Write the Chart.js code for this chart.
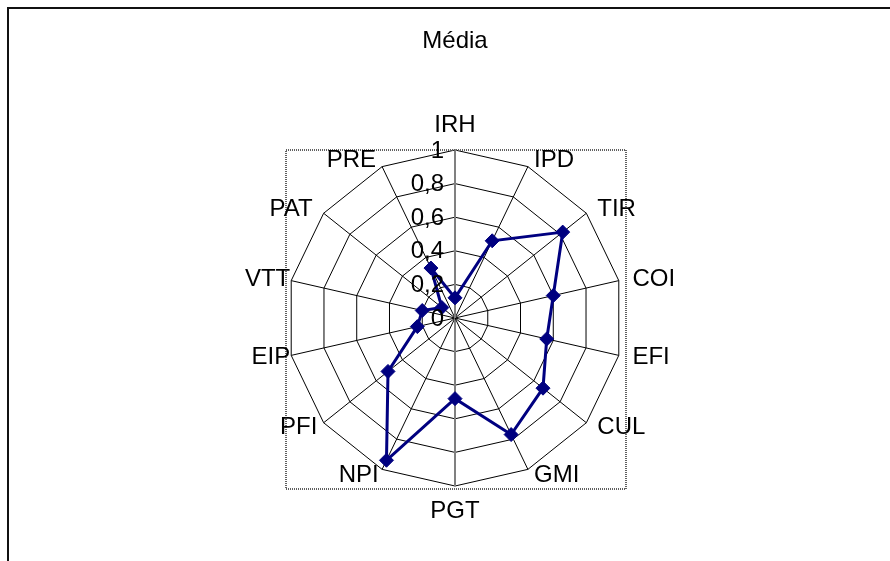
<!DOCTYPE html>
<html>
<head>
<meta charset="utf-8">
<script src="https://cdn.jsdelivr.net/npm/chart.js@4.4.1/dist/chart.umd.min.js"></script>
<style>
  html, body { margin: 0; padding: 0; background: #fff; overflow: hidden; }
  #frame {
    position: absolute; left: 7px; top: 7px; width: 2000px; height: 2000px;
    border-top: 2px solid #111; border-left: 2px solid #111;
  }
  #chart { position: absolute; left: 0; top: 0; }
</style>
</head>
<body>
<div id="frame"></div>
<canvas id="chart" width="890" height="561"></canvas>
<script>
// categories (clockwise from the top)
const categories = ["IRH", "IPD", "TIR", "COI", "EFI", "CUL", "GMI", "PGT", "NPI", "PFI", "EIP", "VTT", "PAT", "PRE"];
// "Média" values
const mediaValues = [0.12, 0.51, 0.82, 0.60, 0.56, 0.67, 0.77, 0.48, 0.94, 0.51, 0.23, 0.20, 0.10, 0.33];
// radial axis
const tickValues = [0, 0.2, 0.4, 0.6, 0.8, 1];
const tickLabels = ["0", "0,2", "0,4", "0,6", "0,8", "1"];

const fontFamily = '"Liberation Sans", Arial, sans-serif';
const labelFont = '24px ' + fontFamily;

// plot box (dotted grey square around the web) + tick and category labels
const excelLook = {
    id: "excelLook",
    beforeDatasetsDraw(chart) {
        const scale = chart.scales.r;
        const ctx = chart.ctx;
        const xc = scale.xCenter, yc = scale.yCenter, r = scale.drawingArea;
        ctx.save();
        ctx.strokeStyle = "#606060";
        ctx.lineWidth = 2;
        ctx.setLineDash([1, 1]);
        ctx.strokeRect(xc - r - 1, yc - r, 2 * r + 4, 2 * r + 3);
        ctx.restore();
    },
    afterDatasetsDraw(chart) {
        const scale = chart.scales.r;
        const ctx = chart.ctx;
        const xc = scale.xCenter, yc = scale.yCenter, r = scale.drawingArea;
        ctx.save();
        ctx.fillStyle = "#000";
        ctx.font = labelFont;

        // tick labels, right aligned just left of the vertical axis
        ctx.textAlign = "right";
        ctx.textBaseline = "middle";
        tickValues.forEach((v, i) => {
            const d = scale.getDistanceFromCenterForValue(v);
            ctx.fillText(tickLabels[i], xc - 11, yc - d + 1);
        });

        // category labels
        categories.forEach((name, i) => {
            const a = scale.getIndexAngle(i);
            const s = Math.sin(a), c = Math.cos(a);
            let x, y;
            if (Math.abs(s) < 0.01) {
                ctx.textAlign = "center";
                x = xc;
                y = yc - c * (r + 25);
            } else if (s > 0) {
                ctx.textAlign = "left";
                x = xc + s * (r + 14);
                y = yc - c * (r + 7);
            } else {
                // left side labels sit closer to the web
                ctx.textAlign = "right";
                const off = Math.abs(c) < 0.3 ? 1 : (c < 0 ? 8 : 14);
                x = xc + s * (r + off);
                y = yc - c * (r + 7);
            }
            ctx.fillText(name, x, y);
        });
        ctx.restore();
    }
};

new Chart(document.getElementById("chart"), {
    type: "radar",
    data: {
        labels: categories,
        datasets: [{
            label: "Média",
            data: mediaValues,
            borderColor: "#000080",
            borderWidth: 3,
            fill: false,
            tension: 0,
            pointStyle: "rectRot",
            pointRadius: 7,
            pointHoverRadius: 7,
            pointBackgroundColor: "#000080",
            pointBorderColor: "#000080",
            pointBorderWidth: 1
        }]
    },
    options: {
        responsive: false,
        animation: false,
        devicePixelRatio: 1,
        layout: { padding: { left: 20, right: 0, top: 0, bottom: 75 } },
        plugins: {
            legend: { display: false },
            tooltip: { enabled: false },
            title: {
                display: true,
                text: "Média",
                color: "#000",
                font: { family: fontFamily, size: 24, weight: "normal", lineHeight: 1.2 },
                padding: { top: 27, bottom: 94.2 }
            }
        },
        scales: {
            r: {
                min: 0,
                max: 1,
                ticks: { stepSize: 0.2, display: false },
                grid: { circular: false, color: "#000", lineWidth: 1 },
                angleLines: {
                    color: (ctx) => (ctx.index % 7 === 0 ? "#808080" : "#000"),
                    lineWidth: (ctx) => (ctx.index % 7 === 0 ? 2 : 1)
                },
                pointLabels: { display: false }
            }
        }
    },
    plugins: [excelLook]
});
</script>
</body>
</html>
